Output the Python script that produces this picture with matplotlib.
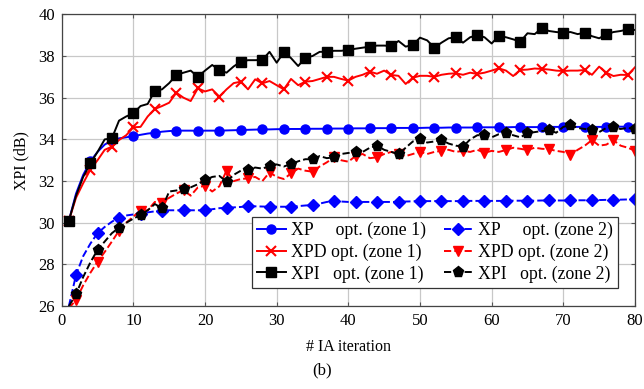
import matplotlib
matplotlib.use("Agg")
import matplotlib.pyplot as plt

plt.rcParams['font.family'] = ['Liberation Serif', 'DejaVu Serif']
plt.rcParams['mathtext.fontset'] = 'stix'

# IA iterations
iters = list(range(1, 81))

# zone 1 optimisation
xp_z1 = [30.1, 31.4, 32.3, 32.95, 33.4, 33.75, 33.95, 34.05, 34.1, 34.16,
         34.22, 34.28, 34.32, 34.37, 34.4, 34.42, 34.42, 34.42, 34.41, 34.42,
         34.42, 34.42, 34.43, 34.44, 34.45, 34.46, 34.47, 34.48, 34.48, 34.49,
         34.49, 34.5, 34.5, 34.5, 34.51, 34.51, 34.51, 34.52, 34.52, 34.52,
         34.53, 34.53, 34.53, 34.54, 34.54, 34.54, 34.55, 34.55, 34.55, 34.55,
         34.56, 34.56, 34.56, 34.57, 34.57, 34.57, 34.57, 34.58, 34.58, 34.58,
         34.58, 34.58, 34.59, 34.59, 34.59, 34.59, 34.59, 34.6, 34.6, 34.6,
         34.6, 34.6, 34.6, 34.6, 34.6, 34.6, 34.61, 34.61, 34.61, 34.61]
xpd_z1 = [30.1, 31.2, 31.9, 32.55, 33.0, 33.5, 33.65, 33.97, 34.2, 34.58,
          34.6, 35.1, 35.46, 35.6, 35.76, 36.24, 36.0, 35.84, 36.45, 36.3,
          36.4, 36.05, 36.4, 36.7, 36.77, 36.4, 36.88, 36.69, 36.8, 36.6,
          36.4, 36.9, 36.6, 36.77, 36.8, 36.9, 37.0, 37.0, 36.9, 36.82,
          37.0, 37.1, 37.25, 37.15, 37.3, 37.09, 37.05, 36.66, 36.96, 37.05,
          37.05, 37.0, 37.1, 37.15, 37.17, 37.1, 37.2, 37.14, 37.2, 37.3,
          37.41, 37.3, 37.04, 37.33, 37.35, 37.4, 37.38, 37.35, 37.3, 37.28,
          37.3, 37.3, 37.33, 37.1, 37.49, 37.2, 37.04, 37.1, 37.09, 37.46]
xpi_z1 = [30.1, 31.3, 32.2, 32.85, 33.4, 34.0, 34.05, 34.9, 35.1, 35.25,
          35.6, 35.7, 36.34, 36.4, 36.7, 37.09, 37.2, 37.3, 37.0, 37.3,
          37.57, 37.33, 37.2, 37.5, 37.73, 37.8, 37.8, 37.81, 38.2, 37.68,
          38.18, 37.9, 37.52, 37.92, 38.0, 38.2, 38.2, 38.25, 38.25, 38.29,
          38.35, 38.4, 38.45, 38.5, 38.5, 38.48, 38.72, 38.45, 38.53, 38.88,
          38.75, 38.4, 38.64, 38.85, 38.9, 38.64, 38.9, 39.0, 38.9, 38.6,
          38.97, 38.9, 38.8, 38.69, 39.09, 39.05, 39.33, 39.2, 39.15, 39.12,
          39.15, 39.05, 39.12, 38.95, 38.85, 39.04, 39.15, 39.2, 39.28, 39.25]

# zone 2 optimisation
xp_z2 = [26.0, 27.5, 28.4, 29.0, 29.5, 29.8, 30.05, 30.25, 30.35, 30.4,
         30.42, 30.5, 30.55, 30.58, 30.6, 30.6, 30.6, 30.6, 30.6, 30.6,
         30.65, 30.7, 30.72, 30.74, 30.76, 30.8, 30.79, 30.78, 30.77, 30.77,
         30.77, 30.77, 30.8, 30.83, 30.85, 30.92, 31.0, 31.04, 31.02, 31.0,
         31.0, 31.0, 31.0, 31.0, 31.0, 31.0, 31.0, 31.02, 31.03, 31.04,
         31.04, 31.04, 31.04, 31.04, 31.04, 31.04, 31.05, 31.05, 31.05, 31.05,
         31.05, 31.05, 31.06, 31.06, 31.06, 31.06, 31.07, 31.07, 31.07, 31.07,
         31.07, 31.08, 31.08, 31.09, 31.09, 31.1, 31.1, 31.11, 31.12, 31.13]
xpd_z2 = [25.9, 26.3, 27.0, 27.6, 28.13, 28.6, 29.1, 29.62, 30.0, 30.3,
          30.58, 30.6, 31.0, 30.96, 31.2, 31.4, 31.57, 31.3, 31.7, 31.78,
          31.5, 31.75, 32.5, 32.0, 32.1, 32.13, 32.2, 32.0, 32.42, 32.2,
          32.1, 32.37, 32.6, 32.5, 32.45, 32.7, 32.9, 33.14, 33.0, 32.93,
          33.2, 33.3, 33.1, 33.14, 33.3, 33.4, 33.3, 33.2, 33.3, 33.41,
          33.3, 33.4, 33.45, 33.5, 33.4, 33.45, 33.4, 33.5, 33.36, 33.45,
          33.4, 33.49, 33.6, 33.55, 33.49, 33.6, 33.55, 33.53, 33.45, 33.4,
          33.25, 33.5, 33.7, 33.97, 33.7, 33.75, 33.96, 33.7, 33.6, 33.46]
xpi_z2 = [26.0, 26.57, 27.4, 28.1, 28.7, 29.1, 29.5, 29.77, 30.0, 30.2,
          30.37, 30.6, 30.9, 30.7, 31.5, 31.55, 31.62, 31.7, 31.85, 32.05,
          32.2, 32.25, 31.97, 32.3, 32.5, 32.55, 32.65, 32.6, 32.72, 32.8,
          32.7, 32.82, 32.95, 33.05, 33.05, 33.2, 33.1, 33.14, 33.3, 33.35,
          33.38, 33.4, 33.6, 33.7, 33.5, 33.4, 33.29, 33.6, 33.9, 34.0,
          33.85, 33.9, 33.97, 33.8, 33.7, 33.65, 34.0, 34.2, 34.21, 34.1,
          34.25, 34.29, 34.2, 34.1, 34.29, 34.35, 34.4, 34.45, 34.32, 34.6,
          34.69, 34.55, 34.5, 34.45, 34.35, 34.55, 34.58, 34.5, 34.55, 34.5]

fig = plt.figure(figsize=(6.44, 3.89), dpi=100)
ax = fig.add_axes([0.0958, 0.2129, 0.8902, 0.7503])

m1 = 3          # zone 1 marks at 1, 4, 7, ...
m2 = (1, 3)     # zone 2 marks at 2, 5, 8, ...
lw = 1.4

ax.plot(iters, xp_z1, '-', color='blue', lw=lw, marker='o', ms=6.5, markevery=m1,
        label='XP     opt. (zone 1)')
ax.plot(iters, xpd_z1, '-', color='red', lw=lw, marker='x', ms=6.5, mew=1.5, markevery=m1,
        label='XPD opt. (zone 1)')
ax.plot(iters, xpi_z1, '-', color='black', lw=lw, marker='s', ms=6.8, markevery=m1,
        label='XPI   opt. (zone 1)')
ax.plot(iters, xp_z2, '--', color='blue', lw=lw, marker='D', ms=6, markevery=m2,
        label='XP     opt. (zone 2)')
ax.plot(iters, xpd_z2, '--', color='red', lw=lw, marker='v', ms=6.8, markevery=m2,
        label='XPD opt. (zone 2)')
ax.plot(iters, xpi_z2, '--', color='black', lw=lw, marker='p', ms=8, markevery=m2,
        label='XPI   opt. (zone 2)')

ax.set_xlim(0, 80)
ax.set_ylim(26, 40)
ax.set_xticks(range(0, 81, 10))
ax.set_yticks(range(26, 41, 2))
ax.grid(True, color='#c8c8c8', lw=0.9)
ax.set_axisbelow(True)
ax.tick_params(direction='in', length=3, labelsize=12, top=True, right=True,
               color='#555555', pad=5)
for s in ax.spines.values():
    s.set_color('#444444')
    s.set_linewidth(0.9)

ax.set_xlabel('# IA iteration', fontsize=11.5, labelpad=7)
ax.set_ylabel('XPI (dB)', fontsize=11.5, labelpad=6)

leg = ax.legend(ncol=2, loc='lower right', bbox_to_anchor=(0.97, 0.062),
                fontsize=12.8, frameon=True, fancybox=False, edgecolor='#333333',
                framealpha=1, handlelength=1.6, handletextpad=0.3,
                columnspacing=1.0, labelspacing=0.25, borderpad=0.3,
                borderaxespad=0)
leg.get_frame().set_linewidth(0.9)

fig.text(0.5, 0.048, '(b)', ha='center', va='center', fontsize=12)

fig.savefig('out.png', dpi=100)
